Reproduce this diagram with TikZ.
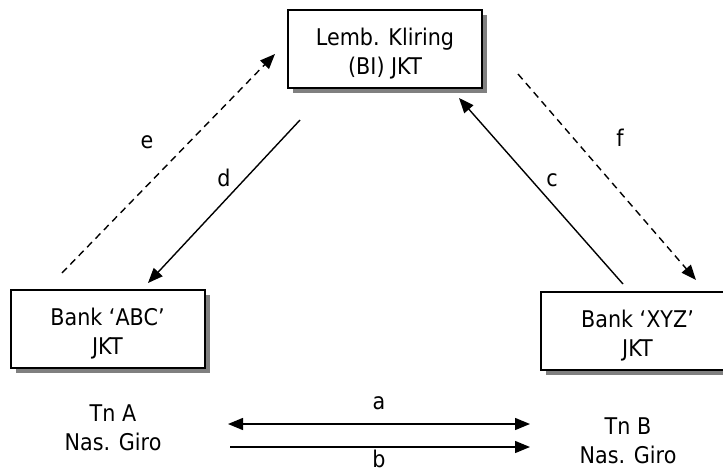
\documentclass[tikz,border=0pt]{standalone}
\usepackage{fontspec}
\setmainfont{DejaVu Sans}[FakeStretch=0.9]
\usetikzlibrary{arrows.meta,shadows}
\begin{document}
\begin{tikzpicture}[x=1pt,y=-1pt,
  font=\fontsize{23}{29}\selectfont,
  party/.style={draw=black,line width=2pt,fill=white,inner sep=0pt,
    minimum width=194pt,minimum height=78pt,
    drop shadow={shadow xshift=5pt,shadow yshift=-5pt,fill=black!50,opacity=1}},
  partytext/.style={align=center,inner sep=0pt,yshift=-5pt},
  plain/.style={align=center,inner sep=0pt},
  flow/.style={line width=1.4pt,-{Triangle[length=15pt,width=12pt]}},
  twoway/.style={line width=1.4pt,{Triangle[length=15pt,width=12pt]}-{Triangle[length=15pt,width=12pt]}},
  notice/.style={flow,dash pattern=on 7pt off 5pt},
  lbl/.style={inner sep=0pt}]
\useasboundingbox (0,0) rectangle (723,472);

% the three parties
\node[party,label={[partytext]center:{Lemb. Kliring\\(BI) JKT}}] (clr) at (385,49) {};
\node[party,label={[partytext]center:{Bank ‘ABC’\\JKT}}] (bka) at (107.5,328.5) {};
\node[party,label={[partytext]center:{Bank ‘XYZ’\\JKT}}] (bkb) at (637.5,330.5) {};

% customers below the banks
\node[plain] (tna) at (113,428) {Tn A\\Nas. Giro};
\node[plain] (tnb) at (628,441) {Tn B\\Nas. Giro};

% end points of the connectors
\coordinate (e1) at (62,273);   \coordinate (e2) at (275,54);
\coordinate (d1) at (300,120);  \coordinate (d2) at (148,283);
\coordinate (c1) at (623,284);  \coordinate (c2) at (459,98);
\coordinate (f1) at (518,74);   \coordinate (f2) at (696,280);
\coordinate (a1) at (228,424);  \coordinate (a2) at (530,424);
\coordinate (b1) at (230,447);  \coordinate (b2) at (530,447);

\draw[notice] (e1) -- (e2);
\draw[flow] (d1) -- (d2);
\draw[flow] (c1) -- (c2);
\draw[notice] (f1) -- (f2);
\draw[twoway] (a1) -- (a2);
\draw[flow] (b1) -- (b2);

% connector labels
\node[lbl] (le) at (147,142) {e};
\node[lbl] (ld) at (224,178) {d};
\node[lbl] (lc) at (552,180) {c};
\node[lbl] (lf) at (620,138) {f};
\node[lbl] (la) at (379,403) {a};
\node[lbl] (lb) at (379,459) {b};
\end{tikzpicture}
\end{document}
